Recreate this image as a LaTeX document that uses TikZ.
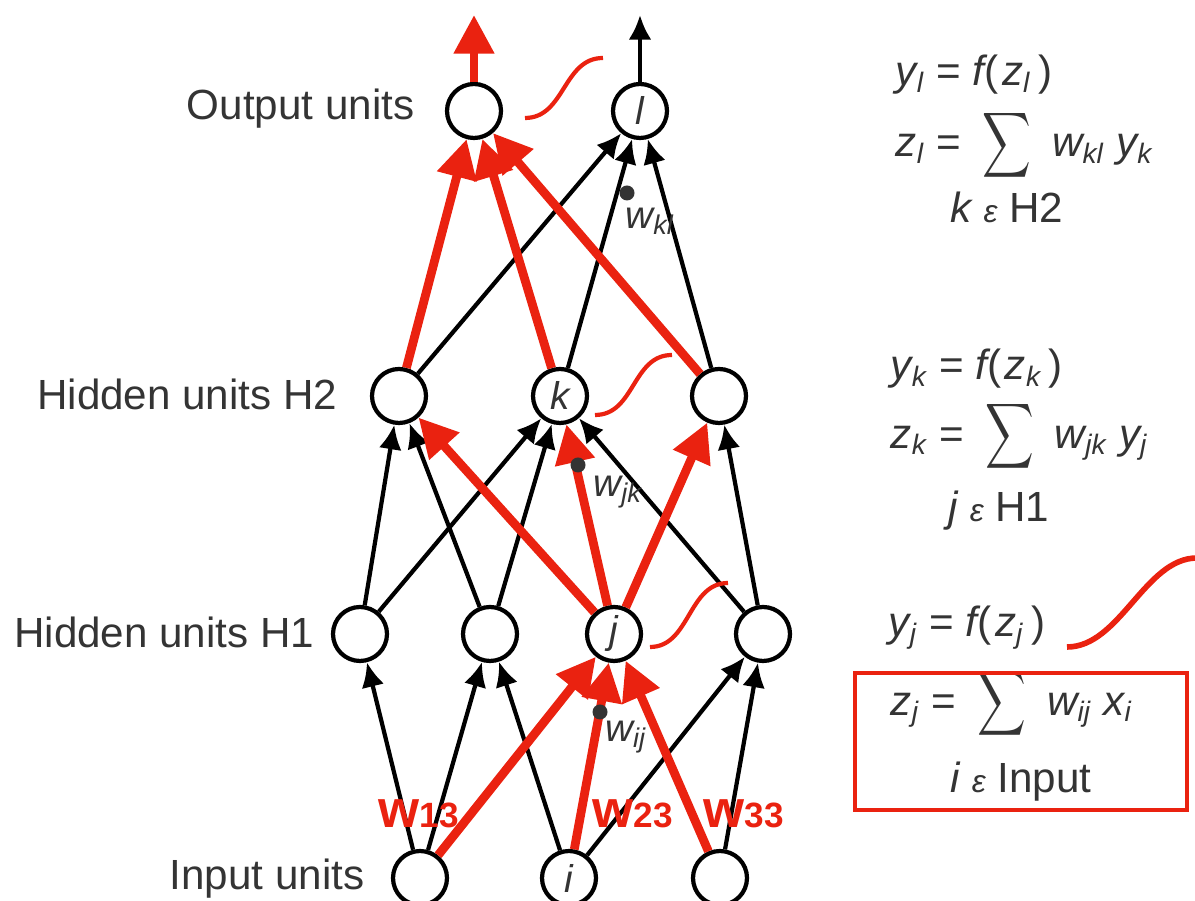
\documentclass[tikz,border=0pt]{standalone}
\usepackage{amsmath}
\usepackage{fontspec}
\setmainfont{Liberation Sans}
\usetikzlibrary{arrows.meta}
\definecolor{netred}{RGB}{234,34,16}
\definecolor{ink}{RGB}{52,52,52}
\newcommand{\bigsum}{\scalebox{0.8}[1.08]{\(\displaystyle\smash{\sum}\)}}

\begin{document}
\begin{tikzpicture}[>={Latex[length=7pt,width=6.5pt]},
  neuron/.style={circle, draw, line width=1.2pt, minimum size=0.54cm, inner sep=0pt, text=ink, font=\fontsize{11}{11}\selectfont\itshape},
  link/.style={->, line width=1.2pt},
  hot/.style={-{Triangle[length=11pt,width=11pt]}, netred, line width=2.5pt},
  layer/.style={anchor=base east, inner sep=0pt, text=ink, font=\fontsize{12}{14}\selectfont},
  eq/.style={text=ink, font=\fontsize{12}{14}\selectfont\itshape, inner sep=0pt},
  wlabel/.style={text=ink, font=\fontsize{11}{11}\selectfont\itshape, inner sep=0pt},
  wtag/.style={anchor=base west, netred, inner sep=0pt},
  sig/.style={netred, line width=1.2pt}]
  \useasboundingbox (0,0) rectangle (11.95,9.01);

  % units
  \node[neuron] (o1) at (4.74,7.90) {};
  \node[neuron] (ol) at (6.40,7.90) {l};
  \node[neuron] (h21) at (3.99,5.05) {};
  \node[neuron] (k) at (5.60,5.05) {k};
  \node[neuron] (h23) at (7.19,5.05) {};
  \node[neuron] (h11) at (3.60,2.67) {};
  \node[neuron] (h12) at (4.90,2.67) {};
  \node[neuron] (j) at (6.14,2.67) {j};
  \node[neuron] (h14) at (7.63,2.67) {};
  \node[neuron] (in1) at (4.20,0.23) {};
  \node[neuron] (i) at (5.69,0.23) {i};
  \node[neuron] (in3) at (7.20,0.23) {};
  \coordinate (top1) at (4.74,8.86);
  \coordinate (top2) at (6.40,8.86);

  % layer names
  \node[layer] (lout) at (4.15,7.81) {Output units};
  \node[layer] (lh2) at (3.38,4.91) {Hidden units H2};
  \node[layer] (lh1) at (3.15,2.53) {Hidden units H1};
  \node[layer] (lin) at (3.65,0.11) {Input units};

  % input -> H1
  \draw[link] (in1) -- (h11);
  \draw[link] (in1) -- (h12);
  \draw[link] (i) -- (h12);
  \draw[link] (i) -- (h14);
  \draw[link] (in3) -- (h14);
  % H1 -> H2
  \draw[link] (h11) -- (h21);
  \draw[link] (h11) -- (k);
  \draw[link] (h12) -- (h21);
  \draw[link] (h12) -- (k);
  \draw[link] (h14) -- (k);
  \draw[link] (h14) -- (h23);
  % H2 -> output
  \draw[link] (h21) -- (ol);
  \draw[link] (k) -- (ol);
  \draw[link] (h23) -- (ol);
  \draw[link] (ol) -- (top2);

  % highlighted path
  \draw[hot] (in1) -- (j);
  \draw[hot] (i) -- (j);
  \draw[hot] (in3) -- (j);
  \draw[hot] (j) -- (h21);
  \draw[hot] (j) -- (k);
  \draw[hot] (j) -- (h23);
  \draw[hot] (h21) -- (o1);
  \draw[hot] (k) -- (o1);
  \draw[hot] (h23) -- (o1);
  \draw[hot] (o1) -- (top1);

  % weights
  \fill[ink] (6.27,7.08) circle (0.075);
  \node[wlabel] (wkl) at (6.50,6.80) {w\textsubscript{kl}};
  \fill[ink] (5.78,4.36) circle (0.075);
  \node[wlabel] (wjk) at (6.18,4.09) {w\textsubscript{jk}};
  \fill[ink] (6.00,1.89) circle (0.075);
  \node[wlabel] (wij) at (6.26,1.64) {w\textsubscript{ij}};

  \node[wtag] (w13) at (3.78,0.73) {\fontsize{15}{15}\selectfont\bfseries w\fontsize{10}{10}\selectfont 13};
  \node[wtag] (w23) at (5.92,0.73) {\fontsize{15}{15}\selectfont\bfseries w\fontsize{10}{10}\selectfont 23};
  \node[wtag] (w33) at (7.03,0.73) {\fontsize{15}{15}\selectfont\bfseries w\fontsize{10}{10}\selectfont 33};

  % activation curves
  \draw[sig] (5.25,7.83) .. controls (5.65,7.83) and (5.63,8.43) .. (6.03,8.43);
  \draw[sig] (5.95,4.86) .. controls (6.35,4.86) and (6.32,5.46) .. (6.72,5.46);
  \draw[sig] (6.50,2.54) .. controls (6.90,2.54) and (6.88,3.18) .. (7.28,3.18);
  \draw[sig, line width=1.6pt] (10.67,2.54) .. controls (11.20,2.54) and (11.45,3.43) .. (11.97,3.43);

  % equations
  \node[eq, anchor=base west] (e1a) at (8.95,8.15) {y\textsubscript{l} {\upshape =} f{\upshape (}\kern1pt z\/\textsubscript{l}{\upshape\,)}};
  \node[eq, anchor=west] (e1b) at (8.95,7.51) {z\textsubscript{l} {\upshape =}\enspace\bigsum\enspace w\textsubscript{kl} y\textsubscript{k}};
  \node[eq, anchor=base west] (e1c) at (9.50,6.78) {k {\small ε} {\upshape H2}};
  \node[eq, anchor=base west] (e2a) at (8.90,5.21) {y\textsubscript{k} {\upshape =} f{\upshape (}\kern1pt z\/\textsubscript{k}{\upshape\,)}};
  \node[eq, anchor=west] (e2b) at (8.90,4.58) {z\textsubscript{k} {\upshape =}\enspace\bigsum\enspace w\textsubscript{jk} y\textsubscript{j}};
  \node[eq, anchor=base west] (e2c) at (9.48,3.79) {j {\small ε} {\upshape H1}};
  \node[eq, anchor=base west] (e3a) at (8.88,2.64) {y\textsubscript{j} {\upshape =} f{\upshape (}\kern1pt z\/\textsubscript{j}{\upshape\,)}};
  \node[eq, anchor=west] (e3b) at (8.90,1.91) {z\textsubscript{j} {\upshape =}\enspace\bigsum\enspace w\textsubscript{ij} x\textsubscript{i}};
  \node[eq, anchor=base west] (e3c) at (9.50,1.08) {i {\small ε} {\upshape Input}};
  \draw[netred, line width=1pt] (8.55,2.28) rectangle (11.87,0.91);
\end{tikzpicture}
\end{document}
